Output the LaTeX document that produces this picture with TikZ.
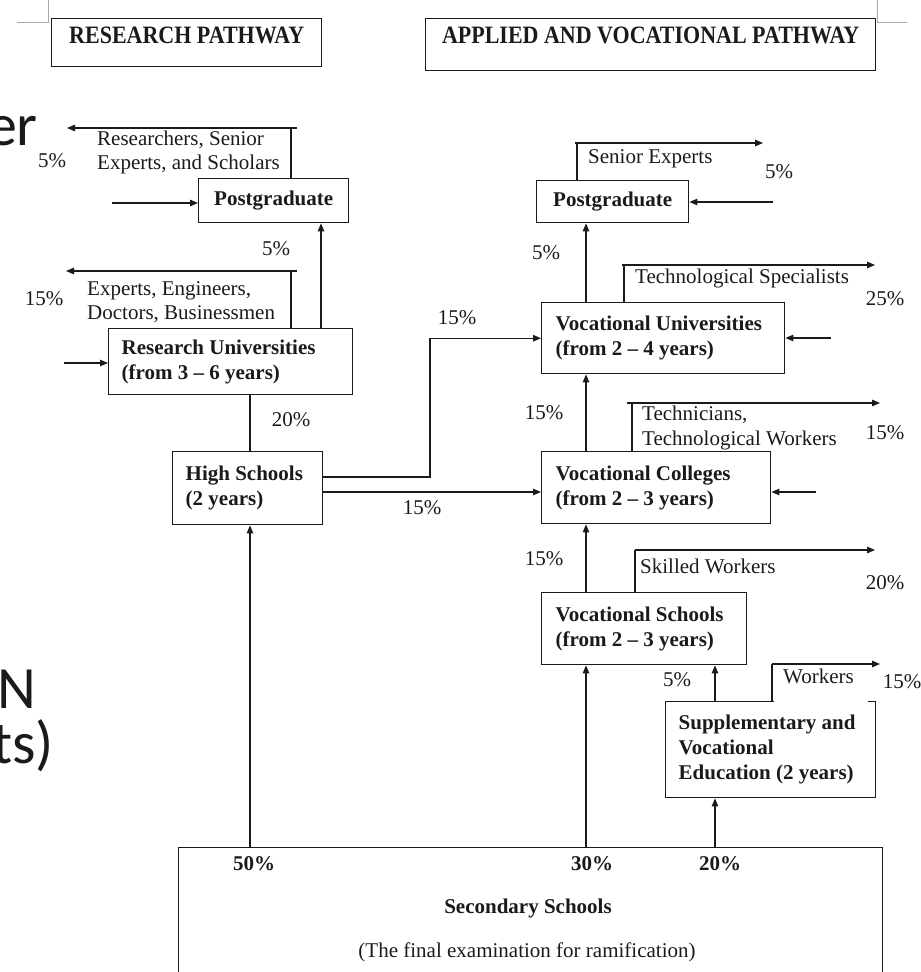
\documentclass[tikz,border=0pt]{standalone}
\usepackage{fontspec}
\setmainfont{Liberation Serif}
\newfontfamily\titlefont[FakeStretch=0.88]{Liberation Serif}
\newfontfamily\slidefont{Carlito}
\usetikzlibrary{arrows.meta}
\definecolor{ink}{HTML}{1A1A1A}
\definecolor{faint}{HTML}{A8A8A8}
\begin{document}
\begin{tikzpicture}[x=1pt,y=-1pt,
  every node/.style={text=ink},
  box/.style={draw=ink,line width=1.4pt,anchor=north west,inner ysep=0pt,align=flush left,
              font=\fontsize{21}{25}\selectfont\bfseries},
  titlebox/.style={draw=ink,line width=1.4pt,anchor=north west,inner sep=0pt,
              text height=17pt,font=\titlefont\bfseries\fontsize{25}{28}\selectfont},
  lbl/.style={anchor=base west,inner sep=0pt,font=\fontsize{21}{25}\selectfont},
  pct/.style={inner sep=0pt,font=\fontsize{21}{25}\selectfont},
  bpct/.style={inner sep=0pt,font=\fontsize{21}{25}\selectfont\bfseries},
  frag/.style={anchor=base east,inner sep=0pt,font=\slidefont\fontsize{60}{60}\selectfont},
  conn/.style={draw=ink,line width=1.2pt},
  arr/.style={conn,-{Triangle[length=8pt,width=6.5pt]}},
  cornerline/.style={draw=faint,line width=0.8pt}
]
\useasboundingbox (0,0) rectangle (921,972);
\clip (0,0) rectangle (921,972);

% page corner marks
\draw[cornerline] (17,22) -- (48,22) -- (48,0);
\draw[cornerline] (877,0) -- (877,22) -- (907,22);

% fragments of slide text behind (cut by the left edge, as in the reference)
\node[frag] (fr1) at (38,145) {er};
\node[frag] (fr2) at (36,708) {N};
\node[frag] (fr3) at (54,763) {ts)};

% titles
\node[titlebox,minimum width=270pt,minimum height=48pt,text depth=15pt] (rtitle) at (51,18) {RESEARCH PATHWAY};
\node[titlebox,minimum width=450pt,minimum height=52pt,text depth=19pt] (atitle) at (425,18) {APPLIED AND VOCATIONAL PATHWAY};

% boxes
\node[box,minimum width=150pt,minimum height=44pt,inner xsep=0pt] (pgL) at (198,178) {Postgraduate};
\node[box,text width=218pt,inner xsep=13pt,minimum height=66pt] (ru) at (108,328) {Research Universities\\(from 3 -- 6 years)};
\node[box,text width=124pt,inner xsep=13pt,minimum height=73pt] (hs) at (172,451) {High Schools\\(2 years)};
\node[box,minimum width=152pt,minimum height=42pt,inner xsep=0pt] (pgR) at (536,180) {Postgraduate};
\node[box,text width=215pt,inner xsep=14pt,minimum height=71pt] (vu) at (541,302) {Vocational Universities\\(from 2 -- 4 years)};
\node[box,text width=201pt,inner xsep=14pt,minimum height=72pt] (vc) at (541,451) {Vocational Colleges\\(from 2 -- 3 years)};
\node[box,text width=177pt,inner xsep=14pt,minimum height=72pt] (vs) at (541,592) {Vocational Schools\\(from 2 -- 3 years)};
\node[box,text width=184pt,inner xsep=13pt,minimum height=96pt] (sve) at (665,701) {Supplementary and\\Vocational\\Education (2 years)};
\node[draw=ink,line width=1.4pt,anchor=north west,minimum width=704pt,minimum height=160pt,inner sep=0pt] (sec) at (178,847) {};

% gap in the top border of the supplementary box
\fill[white] (774,697) rectangle (868,705);

% helper coordinates
\coordinate (r1j) at (291,128); \coordinate (r1s) at (297,128); \coordinate (r1e) at (67,128);
\coordinate (inL1) at (112,203);
\coordinate (up1) at (321,300);
\coordinate (r2j) at (291,271); \coordinate (r2s) at (297,271); \coordinate (r2e) at (66,271);
\coordinate (inL2) at (64,363);
\coordinate (hsx) at (250,500);
\coordinate (hv1) at (430,477);
\coordinate (hv2) at (330,492);
\coordinate (s1j) at (577,143); \coordinate (s1s) at (575,143); \coordinate (s1e) at (763,143);
\coordinate (inR1) at (773,202);
\coordinate (cx) at (586,600);
\coordinate (t1j) at (624,265); \coordinate (t1s) at (622,265); \coordinate (t1e) at (875,265);
\coordinate (inR2) at (831,338);
\coordinate (t2j) at (632,403); \coordinate (t2s) at (627,403); \coordinate (t2e) at (880,403);
\coordinate (inR3) at (816,492);
\coordinate (t3j) at (635,550); \coordinate (t3e) at (875,550);
\coordinate (sx) at (715,700);
\coordinate (t4j) at (772,664); \coordinate (t4e) at (880,664);

% research pathway connectors
\draw[conn] (pgL.north -| r1j) -- (r1j);
\draw[arr] (r1s) -- (r1e);
\draw[arr] (inL1) -- (inL1 -| pgL.west);
\draw[arr] (ru.north -| up1) -- (pgL.south -| up1);
\draw[conn] (ru.north -| r2j) -- (r2j);
\draw[arr] (r2s) -- (r2e);
\draw[arr] (inL2) -- (inL2 -| ru.west);
\draw[conn] (ru.south -| hsx) -- (hs.north -| hsx);
\draw[arr] (sec.north -| hsx) -- (hs.south -| hsx);
\draw[arr] (hs.east |- hv1) -- (hv1) |- (vu.west);
\draw[arr] (hs.east |- hv2) -- (vc.west |- hv2);

% applied pathway connectors
\draw[conn] (pgR.north -| s1j) -- (s1j);
\draw[arr] (s1s) -- (s1e);
\draw[arr] (inR1) -- (inR1 -| pgR.east);
\draw[arr] (vu.north -| cx) -- (pgR.south -| cx);
\draw[conn] (vu.north -| t1j) -- (t1j);
\draw[arr] (t1s) -- (t1e);
\draw[arr] (inR2) -- (inR2 -| vu.east);
\draw[arr] (vc.north -| cx) -- (vu.south -| cx);
\draw[conn] (vc.north -| t2j) -- (t2j);
\draw[arr] (t2s) -- (t2e);
\draw[arr] (inR3) -- (inR3 -| vc.east);
\draw[arr] (vs.north -| cx) -- (vc.south -| cx);
\draw[conn] (vs.north -| t3j) -- (t3j);
\draw[arr] (t3j) -- (t3e);
\draw[arr] (sec.north -| cx) -- (vs.south -| cx);
\draw[arr] (sve.north -| sx) -- (vs.south -| sx);
\draw[conn] (sve.north -| t4j) -- (t4j);
\draw[arr] (t4j) -- (t4e);
\draw[arr] (sec.north -| sx) -- (sve.south -| sx);

% text labels
\node[lbl] (l1a) at (97,145) {Researchers, Senior};
\node[lbl] (l1b) at (97,169) {Experts, and Scholars};
\node[lbl] (l2a) at (87,295) {Experts, Engineers,};
\node[lbl] (l2b) at (87,319) {Doctors, Businessmen};
\node[lbl] (l3) at (588,163) {Senior Experts};
\node[lbl] (l4) at (635,283) {Technological Specialists};
\node[lbl] (l5a) at (642,420) {Technicians,};
\node[lbl] (l5b) at (642,445) {Technological Workers};
\node[lbl] (l6) at (640,573) {Skilled Workers};
\node[lbl] (l7) at (783,683) {Workers};

% percentages
\node[pct] (p1) at (52,161) {5\%};
\node[pct] (p2) at (276,249) {5\%};
\node[pct] (p3) at (44,299) {15\%};
\node[pct] (p4) at (291,420) {20\%};
\node[pct] (p5) at (457,318) {15\%};
\node[pct] (p6) at (422,508) {15\%};
\node[pct] (p7) at (779,172) {5\%};
\node[pct] (p8) at (546,253) {5\%};
\node[pct] (p9) at (885,299) {25\%};
\node[pct] (p10) at (544,413) {15\%};
\node[pct] (p11) at (885,433) {15\%};
\node[pct] (p12) at (544,559) {15\%};
\node[pct] (p13) at (885,583) {20\%};
\node[pct] (p14) at (677,680) {5\%};
\node[pct] (p15) at (902,682) {15\%};
\node[bpct] (b1) at (254,864) {50\%};
\node[bpct] (b2) at (592,864) {30\%};
\node[bpct] (b3) at (720,864) {20\%};

% secondary school texts
\node[bpct] (sec1) at (528,908) {Secondary Schools};
\node[pct] (sec2) at (527,952) {(The final examination for ramification)};
\end{tikzpicture}
\end{document}
